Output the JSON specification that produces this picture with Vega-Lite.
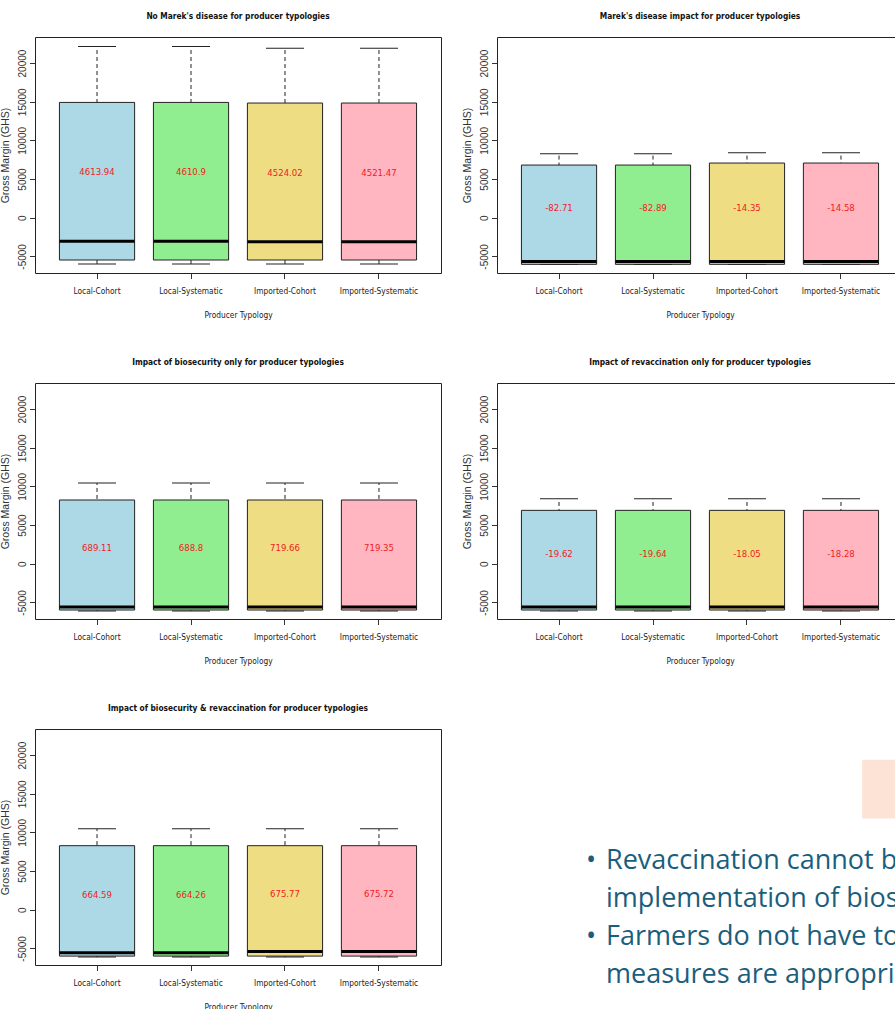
{
  "$schema": "https://vega.github.io/schema/vega-lite/v6.json",
  "background": "white",
  "padding": {"left": 0, "top": 11, "right": 0, "bottom": 0},
  "datasets": {
    "stats": [
      {"panel": 1, "typology": "Local-Cohort", "lo": -5990, "q1": -5470, "med": -3060, "q3": 14910, "hi": 22150, "mean": 4613.94},
      {"panel": 1, "typology": "Local-Systematic", "lo": -5990, "q1": -5470, "med": -3060, "q3": 14910, "hi": 22150, "mean": 4610.9},
      {"panel": 1, "typology": "Imported-Cohort", "lo": -5990, "q1": -5470, "med": -3100, "q3": 14830, "hi": 21900, "mean": 4524.02},
      {"panel": 1, "typology": "Imported-Systematic", "lo": -5990, "q1": -5470, "med": -3100, "q3": 14830, "hi": 21900, "mean": 4521.47},
      {"panel": 2, "typology": "Local-Cohort", "lo": -6060, "q1": -6030, "med": -5670, "q3": 6810, "hi": 8280, "mean": -82.71},
      {"panel": 2, "typology": "Local-Systematic", "lo": -6060, "q1": -6030, "med": -5670, "q3": 6810, "hi": 8280, "mean": -82.89},
      {"panel": 2, "typology": "Imported-Cohort", "lo": -6060, "q1": -6030, "med": -5670, "q3": 7070, "hi": 8400, "mean": -14.35},
      {"panel": 2, "typology": "Imported-Systematic", "lo": -6060, "q1": -6030, "med": -5670, "q3": 7070, "hi": 8400, "mean": -14.58},
      {"panel": 3, "typology": "Local-Cohort", "lo": -6110, "q1": -5990, "med": -5600, "q3": 8240, "hi": 10440, "mean": 689.11},
      {"panel": 3, "typology": "Local-Systematic", "lo": -6110, "q1": -5990, "med": -5600, "q3": 8240, "hi": 10440, "mean": 688.8},
      {"panel": 3, "typology": "Imported-Cohort", "lo": -6110, "q1": -5990, "med": -5600, "q3": 8240, "hi": 10440, "mean": 719.66},
      {"panel": 3, "typology": "Imported-Systematic", "lo": -6110, "q1": -5990, "med": -5600, "q3": 8240, "hi": 10440, "mean": 719.35},
      {"panel": 4, "typology": "Local-Cohort", "lo": -6110, "q1": -5990, "med": -5600, "q3": 6900, "hi": 8410, "mean": -19.62},
      {"panel": 4, "typology": "Local-Systematic", "lo": -6110, "q1": -5990, "med": -5600, "q3": 6900, "hi": 8410, "mean": -19.64},
      {"panel": 4, "typology": "Imported-Cohort", "lo": -6110, "q1": -5990, "med": -5600, "q3": 6900, "hi": 8410, "mean": -18.05},
      {"panel": 4, "typology": "Imported-Systematic", "lo": -6110, "q1": -5990, "med": -5600, "q3": 6900, "hi": 8410, "mean": -18.28},
      {"panel": 5, "typology": "Local-Cohort", "lo": -6130, "q1": -6000, "med": -5560, "q3": 8280, "hi": 10470, "mean": 664.59},
      {"panel": 5, "typology": "Local-Systematic", "lo": -6130, "q1": -6000, "med": -5560, "q3": 8280, "hi": 10470, "mean": 664.26},
      {"panel": 5, "typology": "Imported-Cohort", "lo": -6130, "q1": -6000, "med": -5400, "q3": 8280, "hi": 10470, "mean": 675.77},
      {"panel": 5, "typology": "Imported-Systematic", "lo": -6130, "q1": -6000, "med": -5400, "q3": 8280, "hi": 10470, "mean": 675.72}
    ],
    "notes": [
      {"line": 1, "bullet": "•", "text": "Revaccination cannot be"},
      {"line": 2, "bullet": "", "text": "implementation of biosecurity"},
      {"line": 3, "bullet": "•", "text": "Farmers do not have to"},
      {"line": 4, "bullet": "", "text": "measures are appropriate"}
    ]
  },
  "vconcat": [
    {
      "hconcat": [
        {
          "title": "No Marek's disease for producer typologies",
          "width": 406, "height": 236,
          "data": {"name": "stats"},
          "transform": [{"filter": "datum.panel == 1"}],
          "encoding": {"x": {"field": "typology", "type": "nominal", "sort": ["Local-Cohort", "Local-Systematic", "Imported-Cohort", "Imported-Systematic"], "title": "Producer Typology"}},
          "layer": [
            {"mark": {"type": "rule", "strokeDash": [4, 3], "color": "#222"}, "encoding": {"y": {"field": "lo", "type": "quantitative", "scale": {"domain": [-7150, 23370], "nice": false, "zero": false}, "title": "Gross Margin (GHS)", "axis": {"values": [-5000, 0, 5000, 10000, 15000, 20000]}}, "y2": {"field": "hi"}}},
            {"mark": {"type": "tick", "size": 38, "thickness": 1, "color": "#222", "opacity": 1}, "encoding": {"y": {"field": "hi", "type": "quantitative"}}},
            {"mark": {"type": "tick", "size": 38, "thickness": 1, "color": "#222", "opacity": 1}, "encoding": {"y": {"field": "lo", "type": "quantitative"}}},
            {"mark": {"type": "bar", "stroke": "#222", "strokeWidth": 1}, "encoding": {"y": {"field": "q1", "type": "quantitative"}, "y2": {"field": "q3"}, "fill": {"field": "typology", "type": "nominal", "scale": {"domain": ["Local-Cohort", "Local-Systematic", "Imported-Cohort", "Imported-Systematic"], "range": ["#ADD8E6", "#90EE90", "#EEDD82", "#FFB6C1"]}, "legend": null}}},
            {"mark": {"type": "tick", "size": 75, "thickness": 3, "color": "#000", "opacity": 1}, "encoding": {"y": {"field": "med", "type": "quantitative"}}},
            {"mark": {"type": "text", "dy": -10, "baseline": "middle", "font": "Liberation Sans Narrow, DejaVu Sans Condensed, sans-serif", "fontSize": 9.5, "color": "#ee2222"}, "encoding": {"y": {"field": "mean", "type": "quantitative"}, "text": {"field": "mean", "type": "nominal"}}}
          ]
        },
        {
          "title": "Marek's disease impact for producer typologies",
          "width": 406, "height": 236,
          "data": {"name": "stats"},
          "transform": [{"filter": "datum.panel == 2"}],
          "encoding": {"x": {"field": "typology", "type": "nominal", "sort": ["Local-Cohort", "Local-Systematic", "Imported-Cohort", "Imported-Systematic"], "title": "Producer Typology"}},
          "layer": [
            {"mark": {"type": "rule", "strokeDash": [4, 3], "color": "#222"}, "encoding": {"y": {"field": "lo", "type": "quantitative", "scale": {"domain": [-7150, 23370], "nice": false, "zero": false}, "title": "Gross Margin (GHS)", "axis": {"values": [-5000, 0, 5000, 10000, 15000, 20000]}}, "y2": {"field": "hi"}}},
            {"mark": {"type": "tick", "size": 38, "thickness": 1, "color": "#222", "opacity": 1}, "encoding": {"y": {"field": "hi", "type": "quantitative"}}},
            {"mark": {"type": "tick", "size": 38, "thickness": 1, "color": "#222", "opacity": 1}, "encoding": {"y": {"field": "lo", "type": "quantitative"}}},
            {"mark": {"type": "bar", "stroke": "#222", "strokeWidth": 1}, "encoding": {"y": {"field": "q1", "type": "quantitative"}, "y2": {"field": "q3"}, "fill": {"field": "typology", "type": "nominal", "scale": {"domain": ["Local-Cohort", "Local-Systematic", "Imported-Cohort", "Imported-Systematic"], "range": ["#ADD8E6", "#90EE90", "#EEDD82", "#FFB6C1"]}, "legend": null}}},
            {"mark": {"type": "tick", "size": 75, "thickness": 3, "color": "#000", "opacity": 1}, "encoding": {"y": {"field": "med", "type": "quantitative"}}},
            {"mark": {"type": "text", "dy": -10, "baseline": "middle", "font": "Liberation Sans Narrow, DejaVu Sans Condensed, sans-serif", "fontSize": 9.5, "color": "#ee2222"}, "encoding": {"y": {"field": "mean", "type": "quantitative"}, "text": {"field": "mean", "type": "nominal"}}}
          ]
        }
      ]
    },
    {
      "hconcat": [
        {
          "title": "Impact of biosecurity only for producer typologies",
          "width": 406, "height": 236,
          "data": {"name": "stats"},
          "transform": [{"filter": "datum.panel == 3"}],
          "encoding": {"x": {"field": "typology", "type": "nominal", "sort": ["Local-Cohort", "Local-Systematic", "Imported-Cohort", "Imported-Systematic"], "title": "Producer Typology"}},
          "layer": [
            {"mark": {"type": "rule", "strokeDash": [4, 3], "color": "#222"}, "encoding": {"y": {"field": "lo", "type": "quantitative", "scale": {"domain": [-7150, 23370], "nice": false, "zero": false}, "title": "Gross Margin (GHS)", "axis": {"values": [-5000, 0, 5000, 10000, 15000, 20000]}}, "y2": {"field": "hi"}}},
            {"mark": {"type": "tick", "size": 38, "thickness": 1, "color": "#222", "opacity": 1}, "encoding": {"y": {"field": "hi", "type": "quantitative"}}},
            {"mark": {"type": "tick", "size": 38, "thickness": 1, "color": "#222", "opacity": 1}, "encoding": {"y": {"field": "lo", "type": "quantitative"}}},
            {"mark": {"type": "bar", "stroke": "#222", "strokeWidth": 1}, "encoding": {"y": {"field": "q1", "type": "quantitative"}, "y2": {"field": "q3"}, "fill": {"field": "typology", "type": "nominal", "scale": {"domain": ["Local-Cohort", "Local-Systematic", "Imported-Cohort", "Imported-Systematic"], "range": ["#ADD8E6", "#90EE90", "#EEDD82", "#FFB6C1"]}, "legend": null}}},
            {"mark": {"type": "tick", "size": 75, "thickness": 3, "color": "#000", "opacity": 1}, "encoding": {"y": {"field": "med", "type": "quantitative"}}},
            {"mark": {"type": "text", "dy": -10, "baseline": "middle", "font": "Liberation Sans Narrow, DejaVu Sans Condensed, sans-serif", "fontSize": 9.5, "color": "#ee2222"}, "encoding": {"y": {"field": "mean", "type": "quantitative"}, "text": {"field": "mean", "type": "nominal"}}}
          ]
        },
        {
          "title": "Impact of revaccination only for producer typologies",
          "width": 406, "height": 236,
          "data": {"name": "stats"},
          "transform": [{"filter": "datum.panel == 4"}],
          "encoding": {"x": {"field": "typology", "type": "nominal", "sort": ["Local-Cohort", "Local-Systematic", "Imported-Cohort", "Imported-Systematic"], "title": "Producer Typology"}},
          "layer": [
            {"mark": {"type": "rule", "strokeDash": [4, 3], "color": "#222"}, "encoding": {"y": {"field": "lo", "type": "quantitative", "scale": {"domain": [-7150, 23370], "nice": false, "zero": false}, "title": "Gross Margin (GHS)", "axis": {"values": [-5000, 0, 5000, 10000, 15000, 20000]}}, "y2": {"field": "hi"}}},
            {"mark": {"type": "tick", "size": 38, "thickness": 1, "color": "#222", "opacity": 1}, "encoding": {"y": {"field": "hi", "type": "quantitative"}}},
            {"mark": {"type": "tick", "size": 38, "thickness": 1, "color": "#222", "opacity": 1}, "encoding": {"y": {"field": "lo", "type": "quantitative"}}},
            {"mark": {"type": "bar", "stroke": "#222", "strokeWidth": 1}, "encoding": {"y": {"field": "q1", "type": "quantitative"}, "y2": {"field": "q3"}, "fill": {"field": "typology", "type": "nominal", "scale": {"domain": ["Local-Cohort", "Local-Systematic", "Imported-Cohort", "Imported-Systematic"], "range": ["#ADD8E6", "#90EE90", "#EEDD82", "#FFB6C1"]}, "legend": null}}},
            {"mark": {"type": "tick", "size": 75, "thickness": 3, "color": "#000", "opacity": 1}, "encoding": {"y": {"field": "med", "type": "quantitative"}}},
            {"mark": {"type": "text", "dy": -10, "baseline": "middle", "font": "Liberation Sans Narrow, DejaVu Sans Condensed, sans-serif", "fontSize": 9.5, "color": "#ee2222"}, "encoding": {"y": {"field": "mean", "type": "quantitative"}, "text": {"field": "mean", "type": "nominal"}}}
          ]
        }
      ]
    },
    {
      "spacing": 146,
      "hconcat": [
        {
          "title": "Impact of biosecurity & revaccination for producer typologies",
          "width": 406, "height": 236,
          "data": {"name": "stats"},
          "transform": [{"filter": "datum.panel == 5"}],
          "encoding": {"x": {"field": "typology", "type": "nominal", "sort": ["Local-Cohort", "Local-Systematic", "Imported-Cohort", "Imported-Systematic"], "title": "Producer Typology"}},
          "layer": [
            {"mark": {"type": "rule", "strokeDash": [4, 3], "color": "#222"}, "encoding": {"y": {"field": "lo", "type": "quantitative", "scale": {"domain": [-7150, 23370], "nice": false, "zero": false}, "title": "Gross Margin (GHS)", "axis": {"values": [-5000, 0, 5000, 10000, 15000, 20000]}}, "y2": {"field": "hi"}}},
            {"mark": {"type": "tick", "size": 38, "thickness": 1, "color": "#222", "opacity": 1}, "encoding": {"y": {"field": "hi", "type": "quantitative"}}},
            {"mark": {"type": "tick", "size": 38, "thickness": 1, "color": "#222", "opacity": 1}, "encoding": {"y": {"field": "lo", "type": "quantitative"}}},
            {"mark": {"type": "bar", "stroke": "#222", "strokeWidth": 1}, "encoding": {"y": {"field": "q1", "type": "quantitative"}, "y2": {"field": "q3"}, "fill": {"field": "typology", "type": "nominal", "scale": {"domain": ["Local-Cohort", "Local-Systematic", "Imported-Cohort", "Imported-Systematic"], "range": ["#ADD8E6", "#90EE90", "#EEDD82", "#FFB6C1"]}, "legend": null}}},
            {"mark": {"type": "tick", "size": 75, "thickness": 3, "color": "#000", "opacity": 1}, "encoding": {"y": {"field": "med", "type": "quantitative"}}},
            {"mark": {"type": "text", "dy": -10, "baseline": "middle", "font": "Liberation Sans Narrow, DejaVu Sans Condensed, sans-serif", "fontSize": 9.5, "color": "#ee2222"}, "encoding": {"y": {"field": "mean", "type": "quantitative"}, "text": {"field": "mean", "type": "nominal"}}}
          ]
        },
        {
          "width": 307, "height": 279,
          "view": {"stroke": null},
          "data": {"name": "notes"},
          "layer": [
            {
              "data": {"values": [{"box": "note"}]},
              "mark": {"type": "rect", "color": "#FDE3D6"},
              "encoding": {
                "x": {"datum": 89.3, "type": "quantitative", "scale": {"domain": [0, 100], "nice": false, "zero": false}, "axis": null},
                "x2": {"datum": 100},
                "y": {"datum": -1.88, "type": "quantitative", "scale": {"domain": [-2.694, 4.668], "nice": false, "zero": false, "reverse": true}, "axis": null},
                "y2": {"datum": -0.33}
              }
            },
            {
              "mark": {"type": "text", "align": "left", "baseline": "alphabetic", "dx": -2, "font": "Open Sans", "fontSize": 27, "color": "#1A5E7E", "clip": true},
              "encoding": {
                "x": {"datum": 0, "type": "quantitative"},
                "y": {"field": "line", "type": "quantitative"},
                "text": {"field": "bullet"}
              }
            },
            {
              "mark": {"type": "text", "align": "left", "baseline": "alphabetic", "dx": 18, "font": "Open Sans", "fontSize": 27, "color": "#1A5E7E", "clip": true},
              "encoding": {
                "x": {"datum": 0, "type": "quantitative"},
                "y": {"field": "line", "type": "quantitative"},
                "text": {"field": "text"}
              }
            }
          ]
        }
      ]
    }
  ],
  "spacing": 37,
  "config": {
    "concat": {"spacing": 20},
    "view": {"stroke": "#222", "strokeWidth": 1},
    "scale": {"bandPaddingInner": 0.2, "bandPaddingOuter": 0.26},
    "title": {"font": "Liberation Sans Narrow, DejaVu Sans Condensed, sans-serif", "fontSize": 8.3, "fontWeight": "bold", "color": "#111", "offset": 17, "anchor": "middle", "frame": "group"},
    "axisX": {"labelAngle": 0, "domain": false, "tickSize": 5.5, "labelPadding": 8, "labelFont": "Liberation Sans Narrow, DejaVu Sans Condensed, sans-serif", "labelFontSize": 8.3, "titleFont": "Liberation Sans Narrow, DejaVu Sans Condensed, sans-serif", "titleFontSize": 8.3, "titleFontWeight": "normal", "titlePadding": 16, "labelColor": "#222", "titleColor": "#222", "tickColor": "#333"},
    "axisY": {"labelAngle": -90, "labelExpr": "'' + datum.value", "grid": false, "domain": false, "tickSize": 5.5, "labelPadding": 2, "labelFont": "Liberation Sans", "labelFontSize": 10, "titleFont": "Liberation Sans", "titleFontSize": 10.5, "titleFontWeight": "normal", "titlePadding": 7, "labelColor": "#333", "titleColor": "#333", "tickColor": "#333"}
  }
}
